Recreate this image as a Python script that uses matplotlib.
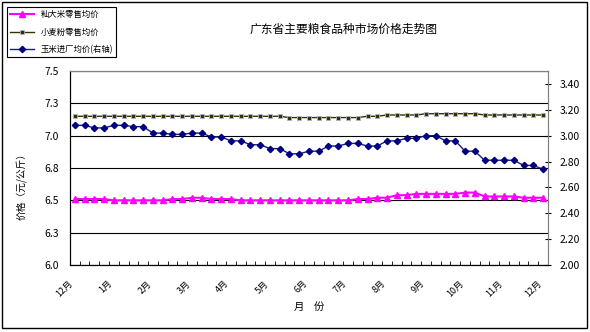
import matplotlib.pyplot as plt
import matplotlib.patches as mpatches
import numpy as np

plt.rcParams['font.family'] = ['Noto Sans CJK SC', 'DejaVu Sans']

# data: 49 weekly points, Dec to Dec
months = ['12月', '1月', '2月', '3月', '4月', '5月', '6月',
          '7月', '8月', '9月', '10月', '11月', '12月']

rice = [6.51, 6.51, 6.51, 6.51, 6.50, 6.50, 6.50, 6.50, 6.50, 6.50,
        6.51, 6.51, 6.52, 6.52, 6.51, 6.51, 6.51, 6.50, 6.50, 6.50,
        6.50, 6.50, 6.50, 6.50, 6.50, 6.50, 6.50, 6.50, 6.50, 6.51,
        6.51, 6.52, 6.52, 6.54, 6.54, 6.55, 6.55, 6.55, 6.55, 6.55,
        6.56, 6.56, 6.53, 6.53, 6.53, 6.53, 6.52, 6.52, 6.52]

flour = [7.15] * 22 + [7.14] * 8 + [7.15, 7.15] + [7.16] * 4 + [7.17] * 6 + [7.16] * 7

corn = [3.08, 3.08, 3.06, 3.06, 3.08, 3.08, 3.07, 3.07, 3.02, 3.02,
        3.01, 3.01, 3.02, 3.02, 2.99, 2.99, 2.96, 2.96, 2.93, 2.93,
        2.90, 2.90, 2.86, 2.86, 2.88, 2.88, 2.92, 2.92, 2.94, 2.94,
        2.92, 2.92, 2.96, 2.96, 2.98, 2.98, 3.00, 3.00, 2.96, 2.96,
        2.88, 2.88, 2.81, 2.81, 2.81, 2.81, 2.77, 2.77, 2.74]

x = np.arange(len(rice))

fig = plt.figure(figsize=(5.9, 3.32), dpi=100)
ax = fig.add_axes([0.1186, 0.2018, 0.8102, 0.5843])
ax2 = ax.twinx()

l1, = ax.plot(x, rice, color='#ff00ff', lw=1.5, marker='^', ms=4,
              mec='#ff00ff', mfc='#ff00ff', label='籼大米零售均价')
l2, = ax.plot(x, flour, color='#333300', lw=1, marker='s', ms=3.2,
              mfc='#333300', mec='#b0b0c8', mew=0.6, label='小麦粉零售均价')
l3, = ax2.plot(x, corn, color='#1a1a8c', lw=1, marker='D', ms=3.2,
               mfc='#000080', mec='#000080', label='玉米进厂均价(右轴)')

ax.set_xlim(-0.5, len(rice) - 0.5)
ax.set_ylim(6.0, 7.5)
ax2.set_ylim(2.0, 3.5)

# left axis
ax.set_yticks([6.0, 6.25, 6.5, 6.75, 7.0, 7.25, 7.5])
ax.set_yticklabels(['6.0', '6.3', '6.5', '6.8', '7.0', '7.3', '7.5'], fontsize=7.5)
ax.tick_params(axis='y', length=0, pad=8)
ax.yaxis.grid(True, color='black', lw=0.8)
ax.set_axisbelow(True)
ax.set_ylabel('价格（元/公斤）', fontsize=7)
ax.yaxis.set_label_coords(-0.09, 0.42)

# right axis
rt = np.arange(2.0, 3.41, 0.2)
ax2.set_yticks(rt)
ax2.set_yticklabels(['%.2f' % v for v in rt], fontsize=7.5)
ax2.tick_params(axis='y', direction='inout', length=5, pad=6)

# x axis
ax.set_xticks(x[::4])
ax.set_xticklabels(months, rotation=45, ha='right', fontsize=6.5)
ax.set_xticks(np.arange(-0.5, len(rice), 1), minor=True)
ax.tick_params(axis='x', which='major', length=0, pad=10)
ax.tick_params(axis='x', which='minor', direction='in', length=3)
ax.set_xlabel('月    份', fontsize=7.5, labelpad=2)

for a in (ax, ax2):
    a.spines['top'].set_color('#808080')
    a.spines['right'].set_color('#808080')
    a.spines['left'].set_color('black')
    a.spines['bottom'].set_color('black')

fig.text(0.583, 0.913, '广东省主要粮食品种市场价格走势图', fontsize=8.5,
         ha='center', va='center')

leg = ax.legend(handles=[l1, l2, l3], loc='upper left',
                bbox_to_anchor=(0.012, 0.979), bbox_transform=fig.transFigure,
                fontsize=6, fancybox=False, edgecolor='black',
                handlelength=2.8, borderaxespad=0, labelspacing=1.0,
                framealpha=1)
leg.get_frame().set_linewidth(0.8)

# outer frame
fig.patches.append(mpatches.Rectangle((2 / 590, 1 - 328 / 332), 585 / 590, 326 / 332,
                                      transform=fig.transFigure, fill=False,
                                      edgecolor='black', lw=1))

fig.savefig('out.png', dpi=100)
